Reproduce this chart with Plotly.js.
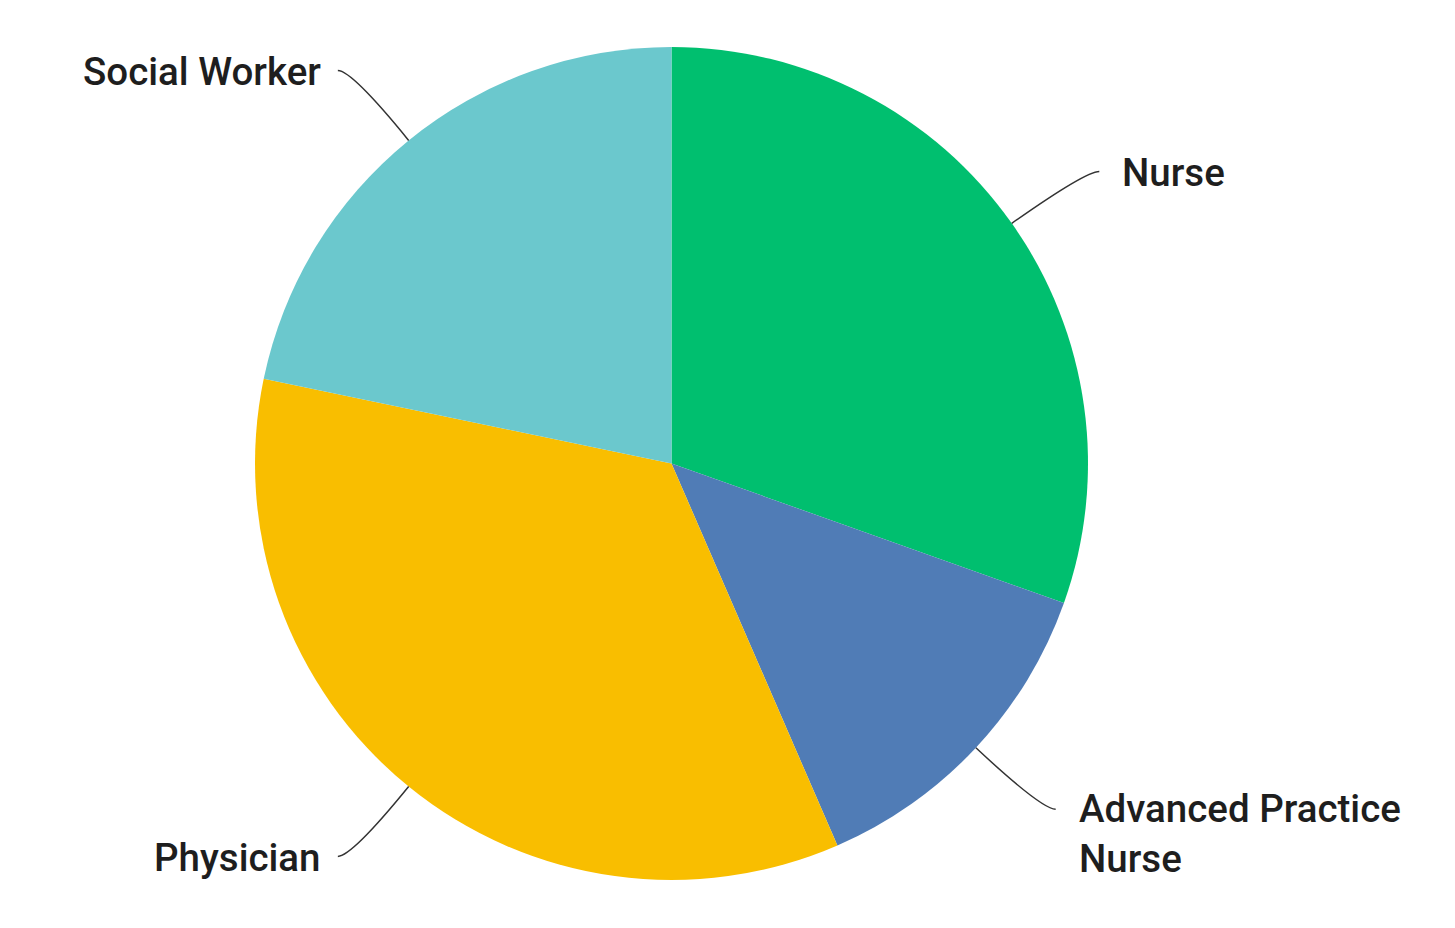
<!DOCTYPE html>
<html>
<head>
<meta charset="utf-8">
<script src="https://cdn.plot.ly/plotly-3.0.1.min.js"></script>
<style>html,body{margin:0;padding:0;background:#fff;}#chart{width:1455px;height:928px;}</style>
</head>
<body>
<div id="chart"></div>
<script>
const categories = ["Nurse", "Advanced Practice Nurse", "Physician", "Social Worker"];
const labelText = ["Nurse", "Advanced Practice<br>Nurse", "Physician", "Social Worker"];
const responses = [7, 3, 8, 5];
const colors = ["#00BF6F", "#507CB6", "#F9BE00", "#6BC8CD"];

const W = 1455, H = 928;
const dom = {x: [255 / W, 1088 / W], y: [1 - 880 / H, 1 - 47 / H]};
const cx = (dom.x[0] + dom.x[1]) / 2 * W;
const cy = (1 - (dom.y[0] + dom.y[1]) / 2) * H;
const R = Math.min((dom.x[1] - dom.x[0]) * W, (dom.y[1] - dom.y[0]) * H) / 2;

const total = responses.reduce((a, b) => a + b, 0);
const shapes = [], annotations = [];
let cum = 0;
const fs = 38.5;
responses.forEach((v, i) => {
  const mid = (cum + v / 2) / total * 2 * Math.PI;
  cum += v;
  const dx = Math.sin(mid), dy = -Math.cos(mid);
  const sx = cx + R * dx, sy = cy + R * dy;
  const L = 90;
  const px = sx + dx * L, py = sy + dy * L;
  const sign = dx >= 0 ? 1 : -1;
  const ex = px + sign * 14, ey = py;
  const toX = x => x / W, toY = y => 1 - y / H;
  shapes.push({
    type: 'path', xref: 'paper', yref: 'paper',
    path: `M ${toX(sx)},${toY(sy)} Q ${toX(px)},${toY(py)} ${toX(ex)},${toY(ey)}`,
    line: {color: '#333333', width: 1.5}
  });
  const multi = labelText[i].includes('<br>');
  annotations.push({
    xref: 'paper', yref: 'paper', showarrow: false,
    x: toX(ex + sign * (sign > 0 ? 21 : 15)), y: multi ? toY(ey - fs * 0.66) : toY(ey + 1),
    xanchor: sign > 0 ? 'left' : 'right',
    yanchor: multi ? 'top' : 'middle',
    align: 'left',
    text: labelText[i],
    font: {family: 'Roboto, Arial, sans-serif', size: fs, color: '#1e1e1e', weight: 500}
  });
});

const data = [{
  type: 'pie',
  labels: categories,
  values: responses,
  sort: false,
  direction: 'clockwise',
  rotation: 0,
  textinfo: 'none',
  hoverinfo: 'label+value+percent',
  marker: {colors: colors, line: {width: 0}},
  domain: dom
}];

const layout = {
  width: W, height: H,
  margin: {l: 0, r: 0, t: 0, b: 0},
  showlegend: false,
  paper_bgcolor: '#ffffff',
  shapes: shapes,
  annotations: annotations
};
Plotly.newPlot('chart', data, layout, {displayModeBar: false, staticPlot: true});
</script>
</body>
</html>
